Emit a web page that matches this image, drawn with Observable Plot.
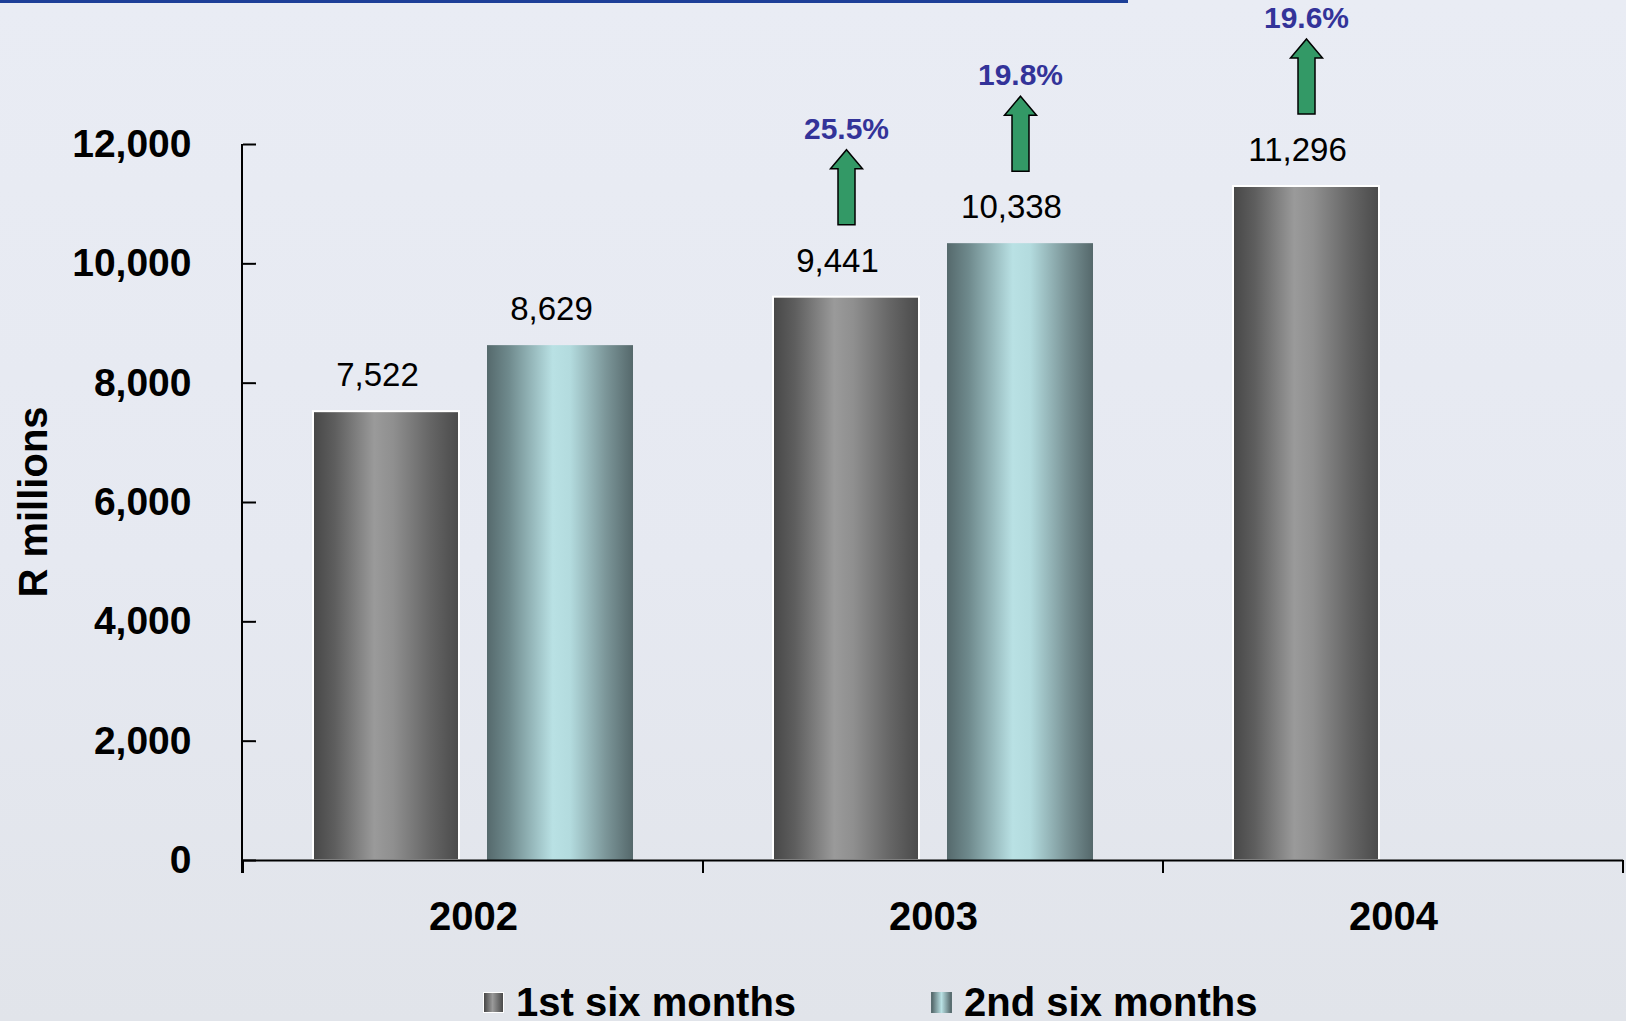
<!DOCTYPE html>
<html><head><meta charset="utf-8">
<script src="https://cdn.jsdelivr.net/npm/d3@7"></script>
<script src="https://cdn.jsdelivr.net/npm/@observablehq/plot@0.6"></script>
<style>
html,body{margin:0;padding:0;}
body{width:1626px;height:1021px;overflow:hidden;position:relative;background:linear-gradient(180deg,#e9ecf4 0%,#e6e9f1 55%,#e1e4ea 100%);font-family:"Liberation Sans",Arial,sans-serif;}
#topline{position:absolute;left:0;top:0;width:1128px;height:3px;background:#1d3f98;}
#chart{position:absolute;left:0;top:0;}
#ylabel{position:absolute;left:33px;top:502px;transform:translate(-50%,-50%) rotate(-90deg);font-weight:bold;font-size:40px;white-space:nowrap;color:#000;}
#legend{position:absolute;left:483px;top:979px;display:flex;align-items:center;font-weight:bold;font-size:40px;line-height:46px;color:#000;}
.item{display:flex;align-items:center;}
.sw{width:21px;height:21px;margin-right:12px;box-sizing:border-box;}
</style></head>
<body>
<div id="chart"></div>
<div id="topline"></div>
<div id="ylabel">R millions</div>
<div id="legend"></div>
<script>
const years = ["2002", "2003", "2004"];
const halves = ["1st six months", "2nd six months"];
const firstHalf = [7522, 9441, 11296];
const secondHalf = [8629, 10338, null];
const firstGrowth = [null, "25.5%", "19.6%"];
const secondGrowth = [null, "19.8%", null];
const yTicks = [0, 2000, 4000, 6000, 8000, 10000, 12000];

const rows = [];
years.forEach((year, i) => {
  if (firstHalf[i] != null) rows.push({year, half: halves[0], value: firstHalf[i], growth: firstGrowth[i]});
  if (secondHalf[i] != null) rows.push({year, half: halves[1], value: secondHalf[i], growth: secondGrowth[i]});
});
const growthRows = rows.filter(d => d.growth);

const blockArrow = {
  draw(ctx) {
    ctx.moveTo(0, -37.5);
    ctx.lineTo(16, -18.5);
    ctx.lineTo(8.5, -18.5);
    ctx.lineTo(8.5, 37.5);
    ctx.lineTo(-8.5, 37.5);
    ctx.lineTo(-8.5, -18.5);
    ctx.lineTo(-16, -18.5);
    ctx.closePath();
  }
};

const W = 1626, H = 960, ML = 242, MR = 2, MT = 144, MB = 100;
const fmt = d3.format(",");

const chart = Plot.plot({
  width: W, height: H,
  marginLeft: ML, marginRight: MR, marginTop: MT, marginBottom: MB,
  style: {background: "transparent", fontFamily: "'Liberation Sans', Arial, sans-serif", color: "#000"},
  fx: {domain: years, padding: 0, axis: null},
  x: {domain: halves, paddingInner: 0.161, paddingOuter: 0.402, axis: null},
  y: {domain: [0, 12000], axis: null},
  marks: [
    Plot.barY(rows.filter(d => d.half === halves[0]), {fx: "year", x: "half", y: "value", fill: "url(#gradGray)", stroke: "#ffffff", strokeWidth: 2}),
    Plot.barY(rows.filter(d => d.half === halves[1]), {fx: "year", x: "half", y: "value", fill: "url(#gradTeal)"}),
    Plot.ruleY([0], {stroke: "#000", strokeWidth: 2}),
    Plot.axisY({ticks: yTicks, tickSize: 13, dx: 13, text: null, label: null, strokeWidth: 2}),
    Plot.axisY({ticks: yTicks, tickSize: 0, tickPadding: 52, tickFormat: fmt, fontSize: 39, fontWeight: "bold", label: null}),
    Plot.axisFx({anchor: "bottom", tickSize: 0, tickPadding: 41, fontSize: 40, fontWeight: "bold", label: null}),
    Plot.text(rows, {fx: "year", x: "half", y: "value", text: d => fmt(d.value), dx: -9, dy: -36, fontSize: 33, fontWeight: "normal", fill: "#000", lineAnchor: "middle"}),
    Plot.dot(growthRows, {fx: "year", x: "half", y: "value", symbol: blockArrow, r: 10, dy: -110, fill: "#339966", stroke: "#000", strokeWidth: 1.5}),
    Plot.text(growthRows, {fx: "year", x: "half", y: "value", text: "growth", dy: -168, fontSize: 30, fontWeight: "bold", fill: "#333399", lineAnchor: "middle"})
  ]
});

document.getElementById("chart").appendChild(chart);

// gradients
const svg = d3.select(chart);
const defs = svg.insert("defs", ":first-child");
function grad(id, stops) {
  const g = defs.append("linearGradient").attr("id", id).attr("x1", 0).attr("x2", 1).attr("y1", 0).attr("y2", 0);
  stops.forEach(([o, c]) => g.append("stop").attr("offset", o).attr("stop-color", c));
}
grad("gradGray", [["0%", "#474747"], ["15%", "#5e5e5e"], ["42%", "#9a9a9a"], ["55%", "#8f8f8f"], ["80%", "#666666"], ["100%", "#4a4a4a"]]);
grad("gradTeal", [["0%", "#55696c"], ["15%", "#6f8a8d"], ["45%", "#b9e1e4"], ["57%", "#b3dbde"], ["82%", "#7a9497"], ["100%", "#55686b"]]);

// axis lines and band-boundary ticks from the library's scales
const fxS = chart.scale("fx"), yS = chart.scale("y");
const y0 = yS.apply(0), yTop = yS.apply(12000);
const g = svg.append("g").attr("stroke", "#000").attr("stroke-width", 2);
g.append("line").attr("x1", ML).attr("x2", ML).attr("y1", yTop).attr("y2", y0 + 13);
const bounds = years.map(y => fxS.apply(y)).concat([fxS.apply(years[years.length - 1]) + fxS.bandwidth]);
bounds.forEach(x => g.append("line").attr("x1", x).attr("x2", x).attr("y1", y0).attr("y2", y0 + 13));

// legend
const legend = d3.select("#legend");
[["gradGray", halves[0], "#fff"], ["gradTeal", halves[1], "transparent"]].forEach(([id, label, border], i) => {
  const item = legend.append("div").attr("class", "item").style("margin-left", i ? "135px" : "0px");
  const stops = id === "gradGray"
    ? "linear-gradient(90deg,#474747,#9a9a9a 45%,#4a4a4a)"
    : "linear-gradient(90deg,#55696c,#b9e1e4 50%,#55686b)";
  item.append("div").attr("class", "sw").style("background", stops).style("border", `1px solid ${border}`);
  item.append("span").text(label);
});
</script>
</body></html>
